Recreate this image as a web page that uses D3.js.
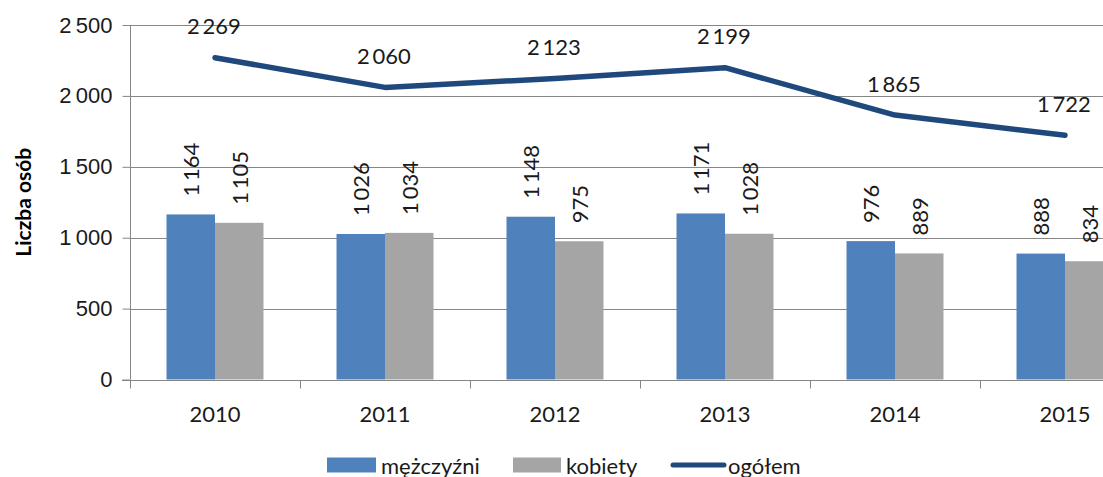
<!DOCTYPE html>
<html>
<head>
<meta charset="utf-8">
<script src="https://cdn.jsdelivr.net/npm/d3@7"></script>
<style>
  body { margin: 0; background: #fff; }
  svg { display: block; font-family: Lato, "Open Sans", sans-serif; }
</style>
</head>
<body>
<svg id="chart" width="1103" height="477"></svg>
<script>
// data
var years = ["2010", "2011", "2012", "2013", "2014", "2015"];
var men = [1164, 1026, 1148, 1171, 976, 888];
var women = [1105, 1034, 975, 1028, 889, 834];
var total = [2269, 2060, 2123, 2199, 1865, 1722];
var yTicks = [0, 500, 1000, 1500, 2000, 2500];
var seriesNames = ["mężczyźni", "kobiety", "ogółem"];

var W = 1103, H = 477;
var m = {l: 130, t: 25, b: 97.5};
var plotRight = 1150; // plot runs past the right edge of the picture
var fs = "22px";

var svg = d3.select("#chart");

var fmt = function(v){ return d3.format(",")(v).replace(",", "\u2009"); };
var fmtLbl = function(v){ return v >= 1000 ? fmt(v) : String(v); };

var x = d3.scaleBand().domain(years).range([m.l, plotRight]).padding(0);
var y = d3.scaleLinear().domain([0, 2500]).range([H - m.b, m.t]);

var grp = 97 / 170;
var sub = d3.scaleBand().domain([0, 1])
	.range([x.bandwidth() * (1 - grp) / 2, x.bandwidth() * (1 + grp) / 2]).padding(0);

var axisCol = "#868686";

// gridlines
svg.append("g").selectAll("line").data(yTicks.slice(1)).enter().append("line")
	.attr("x1", m.l).attr("x2", W)
	.attr("y1", function(d){ return Math.round(y(d)) + 0.5; })
	.attr("y2", function(d){ return Math.round(y(d)) + 0.5; })
	.style("stroke", axisCol).style("stroke-width", 1);

// bars
var colors = ["#4F81BD", "#A5A5A5"];
[men, women].forEach(function(s, k){
	svg.append("g").selectAll("rect").data(s).enter().append("rect")
		.attr("x", function(d, i){ return x(years[i]) + sub(k); })
		.attr("width", sub.bandwidth())
		.attr("y", function(d){ return y(d); })
		.attr("height", function(d){ return y(0) - y(d); })
		.style("fill", colors[k]);

	svg.append("g").selectAll("text").data(s).enter().append("text")
		.attr("transform", function(d, i){
			var cx = x(years[i]) + sub(k) + sub.bandwidth() / 2;
			return "translate(" + cx + "," + (y(d) - 18) + ") rotate(-90)";
		})
		.attr("dominant-baseline", "central")
		.style("font-size", fs).style("fill", "#1a1a1a")
		.text(function(d){ return fmtLbl(d); });
});

// axes
var yAxis = d3.axisLeft(y).tickValues(yTicks).tickSize(8).tickPadding(10)
	.tickFormat(function(d){ return fmtLbl(d); });
var gy = svg.append("g").attr("transform", "translate(" + (m.l + 0.5) + ",0)").call(yAxis);
gy.select(".domain").remove();
gy.append("line").attr("y1", y(0)).attr("y2", m.t).style("stroke", axisCol);
gy.selectAll(".tick line").style("stroke", axisCol);
gy.selectAll(".tick text").style("font-size", fs).style("fill", "#1a1a1a").attr("font-family", null);

var gx = svg.append("g").attr("transform", "translate(0," + (Math.round(y(0)) + 0.5) + ")");
gx.append("line").attr("x1", m.l - 8).attr("x2", W).style("stroke", axisCol);
gx.selectAll(".tk").data(years).enter().append("line")
	.attr("x1", function(d){ return Math.round(x(d)) + 0.5; })
	.attr("x2", function(d){ return Math.round(x(d)) + 0.5; })
	.attr("y1", 0).attr("y2", 8).style("stroke", axisCol);
gx.selectAll(".lb").data(years).enter().append("text")
	.attr("x", function(d){ return x(d) + x.bandwidth() / 2; })
	.attr("y", 33).attr("text-anchor", "middle").attr("dominant-baseline", "central")
	.style("font-size", fs).style("fill", "#1a1a1a")
	.text(function(d){ return d; });

// axis title
svg.append("text")
	.attr("transform", "translate(22," + ((y(0) + m.t) / 2) + ") rotate(-90)")
	.attr("text-anchor", "middle").attr("dominant-baseline", "central")
	.style("font-size", "21px").style("font-weight", "bold").style("fill", "#000")
	.text("Liczba osób");

// total line
var lineCol = "#1F497D";
var line = d3.line()
	.x(function(d, i){ return x(years[i]) + x.bandwidth() / 2; })
	.y(function(d){ return y(d); });
svg.append("path").datum(total).attr("d", line)
	.style("fill", "none").style("stroke", lineCol).style("stroke-width", 5.5)
	.style("stroke-linecap", "round").style("stroke-linejoin", "round");

svg.append("g").selectAll("text").data(total).enter().append("text")
	.attr("x", function(d, i){ return x(years[i]) + x.bandwidth() / 2 - 1; })
	.attr("y", function(d){ return y(d) - 32; })
	.attr("text-anchor", "middle").attr("dominant-baseline", "central")
	.style("font-size", fs).style("fill", "#1a1a1a")
	.text(function(d){ return fmt(d); });

// legend
var leg = svg.append("g").attr("transform", "translate(0,465)");
var legX = [327, 513, 670];
leg.append("rect").attr("x", legX[0]).attr("y", -7.5).attr("width", 49).attr("height", 15).style("fill", colors[0]);
leg.append("rect").attr("x", legX[1]).attr("y", -7.5).attr("width", 48).attr("height", 15).style("fill", colors[1]);
leg.append("line").attr("x1", legX[2] + 3).attr("x2", legX[2] + 54).attr("y1", 0).attr("y2", 0)
	.style("stroke", lineCol).style("stroke-width", 5).style("stroke-linecap", "round");
leg.selectAll("text").data(seriesNames).enter().append("text")
	.attr("x", function(d, i){ return legX[i] + [54, 53, 58][i]; })
	.attr("y", 0).attr("dominant-baseline", "central")
	.style("font-size", fs).style("fill", "#1a1a1a")
	.text(function(d){ return d; });
</script>
</body>
</html>
